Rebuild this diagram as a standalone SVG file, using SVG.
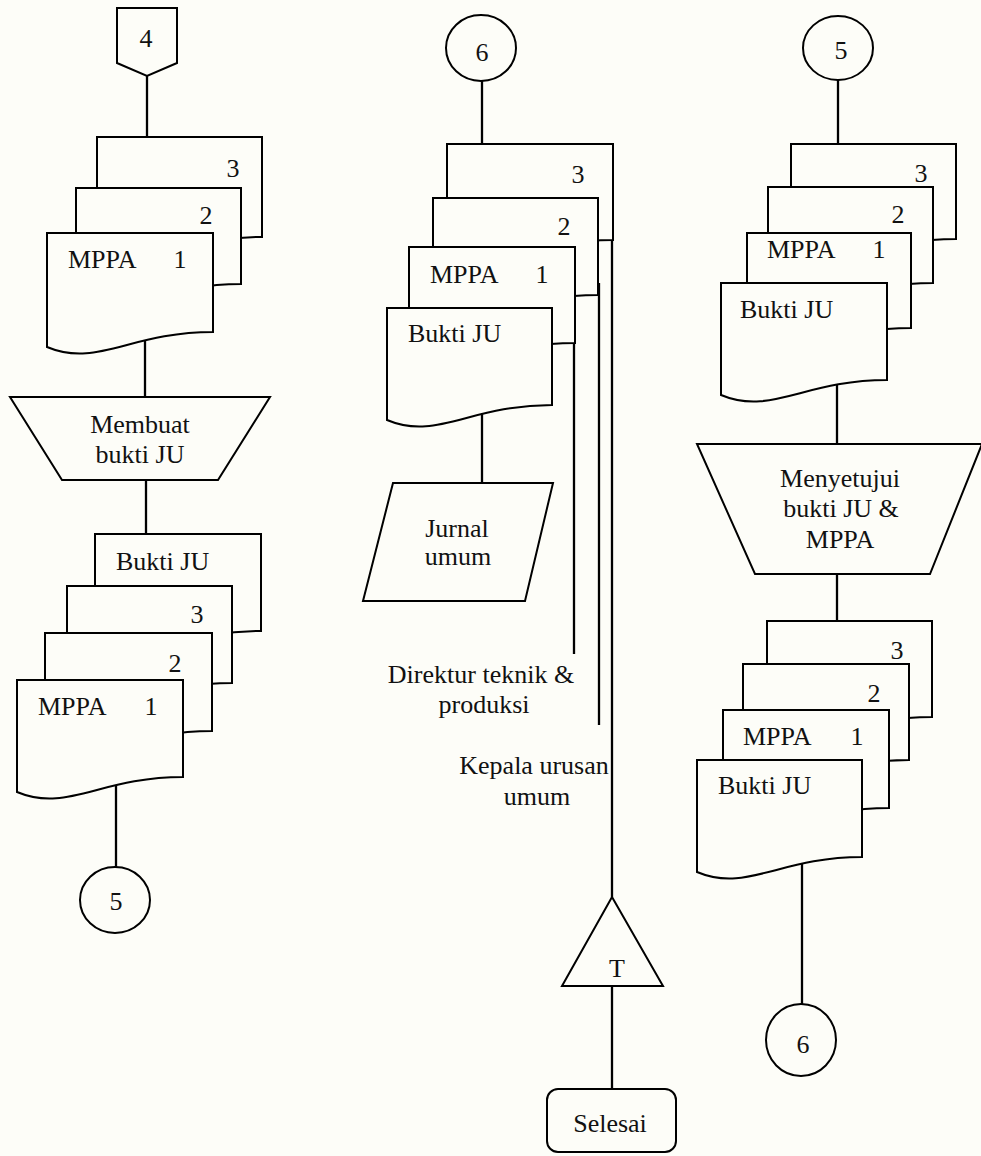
<svg xmlns="http://www.w3.org/2000/svg" width="981" height="1156" viewBox="0 0 981 1156">
<style>
.s{fill:#fdfdf8;stroke:#000;stroke-width:2;stroke-linejoin:miter}
.c{fill:none;stroke:#000;stroke-width:2.3}
text{font-family:"Liberation Serif","Times New Roman",serif;font-size:26px;fill:#111}
.m{text-anchor:middle}
</style>
<rect width="981" height="1156" fill="#fdfdf8"/>
<g id="connectors" class="c">
<line x1="147" y1="76" x2="147" y2="137"/>
<line x1="145" y1="335" x2="145" y2="397"/>
<line x1="146" y1="480" x2="146" y2="534"/>
<line x1="116" y1="780" x2="116" y2="867"/>
<line x1="482" y1="81" x2="482" y2="144"/>
<line x1="482" y1="410" x2="482" y2="483"/>
<line x1="612" y1="232" x2="612" y2="897"/>
<line x1="599" y1="283" x2="599" y2="725"/>
<line x1="574" y1="338" x2="574" y2="654"/>
<line x1="612" y1="986" x2="612" y2="1089"/>
<line x1="838" y1="80" x2="838" y2="144"/>
<line x1="837" y1="385" x2="837" y2="444"/>
<line x1="837" y1="574" x2="837" y2="621"/>
<line x1="802" y1="862" x2="802" y2="1004"/>
</g>
<g id="conn4">
<path class="s" d="M117,8 H177 V63 L147,76 L117,63 Z"/>
<text class="m" x="146" y="47">4</text>
</g>
<g id="docsL1">
<path class="s" d="M97,137 H262 V237 C179.5,237 146.5,273 97,252 Z"/>
<text class="m" x="233" y="177">3</text>
<path class="s" d="M76,188 H241 V284 C158.5,284 125.5,320 76,299 Z"/>
<text class="m" x="206" y="224">2</text>
<path class="s" d="M47,233 H213 V332 C130,332 96.8,368 47,347 Z"/>
<text x="68" y="268">MPPA</text>
<text class="m" x="180" y="268">1</text>
</g>
<g id="membuat">
<path class="s" d="M10,397 H270 L218,480 H62 Z"/>
<text class="m" x="140" y="433">Membuat</text>
<text class="m" x="140" y="463">bukti JU</text>
</g>
<g id="docsL2">
<path class="s" d="M95,534 H261 V631 C178,631 144.8,667 95,646 Z"/>
<text x="116" y="570">Bukti JU</text>
<path class="s" d="M67,586 H232 V683 C149.5,683 116.5,719 67,698 Z"/>
<text class="m" x="197" y="623">3</text>
<path class="s" d="M45,633 H212 V731 C128.5,731 95.1,767 45,746 Z"/>
<text class="m" x="175" y="672">2</text>
<path class="s" d="M17,680 H183 V777 C100,777 66.8,813 17,792 Z"/>
<text x="38" y="715">MPPA</text>
<text class="m" x="151" y="715">1</text>
</g>
<g id="conn5L">
<ellipse class="s" cx="115" cy="900" rx="35" ry="33"/>
<text class="m" x="116" y="910">5</text>
</g>
<g id="conn6T">
<ellipse class="s" cx="481" cy="48" rx="35" ry="33"/>
<text class="m" x="482" y="61">6</text>
</g>
<g id="docsC">
<path class="s" d="M447,144 H613 V240 C530,240 496.8,276 447,255 Z"/>
<text class="m" x="578" y="183">3</text>
<path class="s" d="M433,198 H598 V295 C515.5,295 482.5,331 433,310 Z"/>
<text class="m" x="564" y="235">2</text>
<path class="s" d="M409,247 H575 V343 C492,343 458.8,379 409,358 Z"/>
<text x="430" y="283">MPPA</text>
<text class="m" x="542" y="283">1</text>
<path class="s" d="M387,308 H552 V405 C469.5,405 436.5,441 387,420 Z"/>
<text x="408" y="342">Bukti JU</text>
</g>
<g id="jurnal">
<path class="s" d="M393,483 H553 L525,601 H363 Z"/>
<text class="m" x="457" y="537">Jurnal</text>
<text class="m" x="458" y="565">umum</text>
</g>
<g id="labels">
<text class="m" x="481" y="683">Direktur teknik &amp;</text>
<text class="m" x="484" y="713">produksi</text>
<text class="m" x="534" y="774">Kepala urusan</text>
<text class="m" x="537" y="805">umum</text>
</g>
<g id="arsip">
<path class="s" d="M612,897 L663,986 H562 Z"/>
<text class="m" x="617" y="977">T</text>
</g>
<g id="selesai">
<rect class="s" x="547" y="1089" width="129" height="63" rx="11"/>
<text class="m" x="610" y="1132">Selesai</text>
</g>
<g id="conn5R">
<ellipse class="s" cx="838" cy="48" rx="35" ry="32"/>
<text class="m" x="841" y="59">5</text>
</g>
<g id="docsR1">
<path class="s" d="M791,144 H956 V239 C873.5,239 840.5,275 791,254 Z"/>
<text class="m" x="921" y="182">3</text>
<path class="s" d="M768,187 H933 V283 C850.5,283 817.5,319 768,298 Z"/>
<text class="m" x="898" y="223">2</text>
<path class="s" d="M747,233 H911 V328 C829,328 796.2,364 747,343 Z"/>
<text x="767" y="258">MPPA</text>
<text class="m" x="879" y="258">1</text>
<path class="s" d="M721,283 H887 V380 C804,380 770.8,416 721,395 Z"/>
<text x="740" y="318">Bukti JU</text>
</g>
<g id="menyetujui">
<path class="s" d="M697,444 H982 L930,574 H755 Z"/>
<text class="m" x="840" y="487">Menyetujui</text>
<text class="m" x="841" y="517">bukti JU &amp;</text>
<text class="m" x="840" y="548">MPPA</text>
</g>
<g id="docsR2">
<path class="s" d="M767,621 H932 V717 C849.5,717 816.5,753 767,732 Z"/>
<text class="m" x="897" y="659">3</text>
<path class="s" d="M743,664 H909 V760 C826,760 792.8,796 743,775 Z"/>
<text class="m" x="874" y="702">2</text>
<path class="s" d="M723,710 H889 V808 C806,808 772.8,844 723,823 Z"/>
<text x="743" y="745">MPPA</text>
<text class="m" x="857" y="745">1</text>
<path class="s" d="M697,760 H862 V857 C779.5,857 746.5,893 697,872 Z"/>
<text x="718" y="794">Bukti JU</text>
</g>
<g id="conn6B">
<ellipse class="s" cx="801" cy="1040" rx="35" ry="36"/>
<text class="m" x="803" y="1053">6</text>
</g>
</svg>
